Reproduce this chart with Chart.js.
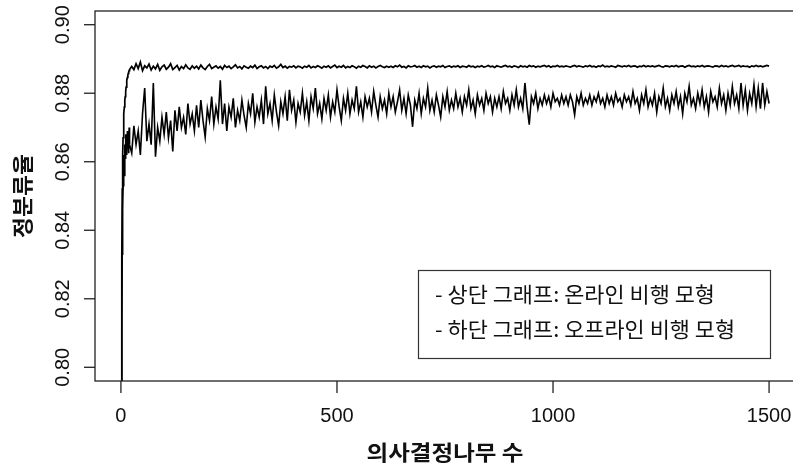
<!DOCTYPE html>
<html>
<head>
<meta charset="utf-8">
<script src="https://cdn.jsdelivr.net/npm/chart.js@4"></script>
<style>
  html, body { margin: 0; padding: 0; background: #fff; overflow: hidden; }
  #wrap { width: 800px; height: 470px; }
</style>
</head>
<body>
<div id="wrap"><canvas id="accChart" width="800" height="470"></canvas></div>
<script>
// number of trees (x)
const treeCounts = [
  1, 2, 3, 4, 5, 6, 7, 8, 9, 10, 11, 12, 13, 14, 15, 16, 17, 18, 19, 20,
  25, 30, 35, 40, 45, 50, 55, 60, 65, 70,
  75, 80, 85, 90, 95, 100, 105, 110, 115, 120,
  125, 130, 135, 140, 145, 150, 155, 160, 165, 170,
  175, 180, 185, 190, 195, 200, 205, 210, 215, 220,
  225, 230, 235, 240, 245, 250, 255, 260, 265, 270,
  275, 280, 285, 290, 295, 300, 305, 310, 315, 320,
  325, 330, 335, 340, 345, 350, 355, 360, 365, 370,
  375, 380, 385, 390, 395, 400, 405, 410, 415, 420,
  425, 430, 435, 440, 445, 450, 455, 460, 465, 470,
  475, 480, 485, 490, 495, 500, 505, 510, 515, 520,
  525, 530, 535, 540, 545, 550, 555, 560, 565, 570,
  575, 580, 585, 590, 595, 600, 605, 610, 615, 620,
  625, 630, 635, 640, 645, 650, 655, 660, 665, 670,
  675, 680, 685, 690, 695, 700, 705, 710, 715, 720,
  725, 730, 735, 740, 745, 750, 755, 760, 765, 770,
  775, 780, 785, 790, 795, 800, 805, 810, 815, 820,
  825, 830, 835, 840, 845, 850, 855, 860, 865, 870,
  875, 880, 885, 890, 895, 900, 905, 910, 915, 920,
  925, 930, 935, 940, 945, 950, 955, 960, 965, 970,
  975, 980, 985, 990, 995, 1000, 1005, 1010, 1015, 1020,
  1025, 1030, 1035, 1040, 1045, 1050, 1055, 1060, 1065, 1070,
  1075, 1080, 1085, 1090, 1095, 1100, 1105, 1110, 1115, 1120,
  1125, 1130, 1135, 1140, 1145, 1150, 1155, 1160, 1165, 1170,
  1175, 1180, 1185, 1190, 1195, 1200, 1205, 1210, 1215, 1220,
  1225, 1230, 1235, 1240, 1245, 1250, 1255, 1260, 1265, 1270,
  1275, 1280, 1285, 1290, 1295, 1300, 1305, 1310, 1315, 1320,
  1325, 1330, 1335, 1340, 1345, 1350, 1355, 1360, 1365, 1370,
  1375, 1380, 1385, 1390, 1395, 1400, 1405, 1410, 1415, 1420,
  1425, 1430, 1435, 1440, 1445, 1450, 1455, 1460, 1465, 1470,
  1475, 1480, 1485, 1490, 1495, 1500
];

// upper curve: online model
const onlineAcc = [
  0.7950, 0.8320, 0.8520, 0.8620, 0.8670, 0.8710, 0.8740, 0.8760, 0.8780, 0.8790,
  0.8805, 0.8818, 0.8830, 0.8838, 0.8846, 0.8852, 0.8858, 0.8862, 0.8866, 0.8869,
  0.8878, 0.8869, 0.8886, 0.8872, 0.8891, 0.8866, 0.8880, 0.8874, 0.8885, 0.8868,
  0.8879, 0.8871, 0.8884, 0.8867, 0.8877, 0.8882, 0.8870, 0.8876, 0.8886, 0.8869,
  0.8875, 0.8881, 0.8868, 0.8878, 0.8872, 0.8883, 0.8874, 0.8870, 0.8880, 0.8873,
  0.8879, 0.8871, 0.8882, 0.8874, 0.8869, 0.8878, 0.8884, 0.8872, 0.8876, 0.8880,
  0.8873, 0.8878, 0.8870, 0.8881, 0.8875, 0.8879, 0.8872, 0.8877, 0.8883, 0.8874,
  0.8878, 0.8871, 0.8880, 0.8876, 0.8873, 0.8879, 0.8875, 0.8882, 0.8872, 0.8877,
  0.8880, 0.8874, 0.8878, 0.8872, 0.8879, 0.8876, 0.8881, 0.8873, 0.8877, 0.8884,
  0.8875, 0.8879, 0.8873, 0.8878, 0.8876, 0.8880, 0.8874, 0.8879, 0.8877, 0.8873,
  0.8879, 0.8876, 0.8881, 0.8874, 0.8878, 0.8875, 0.8880, 0.8877, 0.8873, 0.8879,
  0.8876, 0.8880, 0.8874, 0.8878, 0.8882, 0.8875, 0.8879, 0.8876, 0.8881, 0.8874,
  0.8878, 0.8875, 0.8880, 0.8877, 0.8873, 0.8879, 0.8876, 0.8881, 0.8878, 0.8874,
  0.8880, 0.8876, 0.8879, 0.8874, 0.8878, 0.8881, 0.8877, 0.8875, 0.8879, 0.8876,
  0.8879, 0.8875, 0.8880, 0.8877, 0.8882, 0.8876, 0.8878, 0.8874, 0.8880, 0.8877,
  0.8878, 0.8881, 0.8876, 0.8879, 0.8875, 0.8880, 0.8877, 0.8879, 0.8874, 0.8878,
  0.8880, 0.8876, 0.8879, 0.8877, 0.8881, 0.8875, 0.8878, 0.8880, 0.8876, 0.8879,
  0.8877, 0.8880, 0.8875, 0.8879, 0.8878, 0.8876, 0.8881, 0.8877, 0.8879, 0.8875,
  0.8879, 0.8877, 0.8880, 0.8876, 0.8878, 0.8881, 0.8877, 0.8879, 0.8875, 0.8880,
  0.8878, 0.8876, 0.8879, 0.8881, 0.8877, 0.8879, 0.8876, 0.8880, 0.8878, 0.8875,
  0.8880, 0.8877, 0.8879, 0.8876, 0.8881, 0.8878, 0.8880, 0.8876, 0.8879, 0.8877,
  0.8879, 0.8881, 0.8877, 0.8880, 0.8876, 0.8879, 0.8878, 0.8881, 0.8877, 0.8879,
  0.8877, 0.8880, 0.8878, 0.8876, 0.8879, 0.8881, 0.8877, 0.8880, 0.8878, 0.8876,
  0.8880, 0.8878, 0.8881, 0.8877, 0.8879, 0.8876, 0.8880, 0.8878, 0.8882, 0.8877,
  0.8879, 0.8877, 0.8880, 0.8878, 0.8876, 0.8881, 0.8879, 0.8877, 0.8880, 0.8878,
  0.8881, 0.8877, 0.8879, 0.8880, 0.8876, 0.8879, 0.8878, 0.8881, 0.8877, 0.8880,
  0.8878, 0.8880, 0.8877, 0.8879, 0.8881, 0.8878, 0.8876, 0.8880, 0.8879, 0.8877,
  0.8880, 0.8878, 0.8881, 0.8877, 0.8879, 0.8880, 0.8876, 0.8879, 0.8881, 0.8878,
  0.8879, 0.8877, 0.8880, 0.8878, 0.8881, 0.8877, 0.8879, 0.8880, 0.8878, 0.8876,
  0.8880, 0.8879, 0.8877, 0.8881, 0.8878, 0.8880, 0.8877, 0.8879, 0.8881, 0.8878,
  0.8879, 0.8881, 0.8877, 0.8880, 0.8878, 0.8879, 0.8876, 0.8880, 0.8878, 0.8881,
  0.8878, 0.8880, 0.8877, 0.8879, 0.8881, 0.8879
];

// lower curve: offline model
const offlineAcc = [
  0.7800, 0.8120, 0.8330, 0.8460, 0.8530, 0.8590, 0.8620, 0.8560, 0.8650, 0.8610,
  0.8680, 0.8630, 0.8660, 0.8620, 0.8690, 0.8640, 0.8670, 0.8625, 0.8700, 0.8650,
  0.8625, 0.8705, 0.8650, 0.8690, 0.8620, 0.8740, 0.8815, 0.8660, 0.8710, 0.8650,
  0.8830, 0.8615, 0.8700, 0.8660, 0.8730, 0.8680, 0.8745, 0.8670, 0.8720, 0.8630,
  0.8750, 0.8690, 0.8760, 0.8700, 0.8730, 0.8680, 0.8770, 0.8710, 0.8740, 0.8690,
  0.8765, 0.8700, 0.8780, 0.8720, 0.8672, 0.8755, 0.8720, 0.8790, 0.8710, 0.8760,
  0.8725, 0.8838, 0.8710, 0.8770, 0.8690, 0.8760, 0.8730, 0.8785, 0.8700, 0.8750,
  0.8720, 0.8780, 0.8735, 0.8700, 0.8770, 0.8740, 0.8800, 0.8715, 0.8760, 0.8730,
  0.8780, 0.8710, 0.8820, 0.8740, 0.8770, 0.8720, 0.8795, 0.8745, 0.8705, 0.8775,
  0.8740, 0.8790, 0.8720, 0.8810, 0.8750, 0.8780, 0.8715, 0.8770, 0.8745, 0.8800,
  0.8735, 0.8775, 0.8720, 0.8790, 0.8755, 0.8815, 0.8740, 0.8770, 0.8725, 0.8785,
  0.8750, 0.8795, 0.8730, 0.8775, 0.8745, 0.8810, 0.8760, 0.8720, 0.8785, 0.8750,
  0.8800, 0.8740, 0.8780, 0.8755, 0.8820, 0.8745, 0.8775, 0.8730, 0.8790, 0.8760,
  0.8785, 0.8745, 0.8805, 0.8765, 0.8730, 0.8790, 0.8755, 0.8780, 0.8740, 0.8800,
  0.8760, 0.8790, 0.8745, 0.8775, 0.8810, 0.8750, 0.8785, 0.8740, 0.8795, 0.8765,
  0.8702, 0.8780, 0.8755, 0.8800, 0.8740, 0.8785, 0.8760, 0.8815, 0.8750, 0.8780,
  0.8745, 0.8795, 0.8765, 0.8730, 0.8790, 0.8760, 0.8805, 0.8750, 0.8780, 0.8755,
  0.8800, 0.8760, 0.8785, 0.8745, 0.8790, 0.8765, 0.8810, 0.8755, 0.8780, 0.8740,
  0.8795, 0.8765, 0.8785, 0.8750, 0.8800, 0.8770, 0.8790, 0.8745, 0.8785, 0.8760,
  0.8790, 0.8755, 0.8805, 0.8770, 0.8785, 0.8750, 0.8795, 0.8765, 0.8810, 0.8760,
  0.8785, 0.8755, 0.8830, 0.8760, 0.8708, 0.8790, 0.8770, 0.8800, 0.8755, 0.8785,
  0.8765, 0.8795, 0.8770, 0.8790, 0.8760, 0.8800, 0.8775, 0.8785, 0.8765, 0.8795,
  0.8770, 0.8790, 0.8765, 0.8795, 0.8775, 0.8737, 0.8790, 0.8770, 0.8800, 0.8765,
  0.8785, 0.8770, 0.8795, 0.8765, 0.8790, 0.8775, 0.8800, 0.8770, 0.8785, 0.8760,
  0.8795, 0.8770, 0.8790, 0.8765, 0.8800, 0.8775, 0.8785, 0.8760, 0.8795, 0.8775,
  0.8790, 0.8765, 0.8805, 0.8770, 0.8785, 0.8750, 0.8795, 0.8770, 0.8810, 0.8760,
  0.8785, 0.8765, 0.8800, 0.8745, 0.8790, 0.8770, 0.8815, 0.8760, 0.8785, 0.8750,
  0.8795, 0.8770, 0.8805, 0.8760, 0.8790, 0.8740, 0.8800, 0.8775, 0.8820, 0.8765,
  0.8785, 0.8755, 0.8800, 0.8770, 0.8810, 0.8760, 0.8790, 0.8745, 0.8805, 0.8775,
  0.8790, 0.8760, 0.8815, 0.8770, 0.8795, 0.8750, 0.8800, 0.8765, 0.8820, 0.8770,
  0.8795, 0.8755, 0.8830, 0.8765, 0.8810, 0.8750, 0.8800, 0.8770, 0.8825, 0.8760,
  0.8815, 0.8755, 0.8830, 0.8765, 0.8805, 0.8770
];

const xTicks = [0, 500, 1000, 1500];
const yTicks = [0.80, 0.82, 0.84, 0.86, 0.88, 0.90];
const xTitle = '의사결정나무 수';
const yTitle = '정분류율';
const legendLines = ['- 상단 그래프: 온라인 비행 모형', '- 하단 그래프: 오프라인 비행 모형'];

const NUM_FONT = '20px "Liberation Sans", Arial, sans-serif';
const KR_FONT = '"Noto Sans CJK KR", sans-serif';

// korean text in the source is set in a wider face, so stretch it sideways
function wideText(ctx, text, x, y, sx) {
  ctx.save();
  ctx.translate(x, y);
  ctx.scale(sx, 1);
  ctx.fillText(text, 0, 0);
  ctx.restore();
}

// R style box, ticks, titles and legend
const rAxes = {
  id: 'rAxes',
  afterDraw(chart) {
    const { ctx, chartArea: a, scales } = chart;
    const xs = scales.x, ys = scales.y;
    ctx.save();
    ctx.strokeStyle = '#222';
    ctx.fillStyle = '#111';
    ctx.lineWidth = 1.3;
    ctx.strokeRect(a.left, a.top, a.right - a.left, a.bottom - a.top);

    // x axis
    ctx.font = NUM_FONT;
    ctx.textAlign = 'center';
    ctx.textBaseline = 'middle';
    xTicks.forEach(t => {
      const px = xs.getPixelForValue(t);
      ctx.beginPath();
      ctx.moveTo(px, a.bottom);
      ctx.lineTo(px, a.bottom + 12);
      ctx.stroke();
      ctx.fillText(String(t), px, a.bottom + 35);
    });

    // y axis
    yTicks.forEach(t => {
      const py = ys.getPixelForValue(t);
      ctx.beginPath();
      ctx.moveTo(a.left, py);
      ctx.lineTo(a.left - 11, py);
      ctx.stroke();
      ctx.save();
      ctx.translate(a.left - 32, py);
      ctx.rotate(-Math.PI / 2);
      ctx.fillText(t.toFixed(2), 0, 0);
      ctx.restore();
    });

    // titles
    ctx.font = 'bold 21px ' + KR_FONT;
    wideText(ctx, xTitle, (a.left + a.right) / 2, 452, 157 / ctx.measureText(xTitle).width);
    ctx.save();
    ctx.translate(22, (a.top + a.bottom) / 2);
    ctx.rotate(-Math.PI / 2);
    wideText(ctx, yTitle, 0, 0, 84 / ctx.measureText(yTitle).width);
    ctx.restore();

    // legend box
    ctx.lineWidth = 1.2;
    ctx.strokeStyle = '#333';
    ctx.strokeRect(418.5, 270.5, 352, 88);
    ctx.font = '21px ' + KR_FONT;
    ctx.textAlign = 'left';
    const sx = 280 / ctx.measureText(legendLines[0]).width;
    legendLines.forEach((s, i) => {
      wideText(ctx, s, 435, 294 + i * 35, sx);
    });
    ctx.restore();
  }
};

const toPoints = arr => arr.map((v, i) => ({ x: treeCounts[i], y: v }));

new Chart(document.getElementById('accChart'), {
  type: 'line',
  data: {
    datasets: [
      { label: 'online', data: toPoints(onlineAcc), borderColor: '#000', borderWidth: 1.7, pointRadius: 0, tension: 0 },
      { label: 'offline', data: toPoints(offlineAcc), borderColor: '#000', borderWidth: 1.6, pointRadius: 0, tension: 0 }
    ]
  },
  options: {
    responsive: false,
    animation: false,
    layout: { padding: { left: 95, right: 5, top: 11, bottom: 89 } },
    scales: {
      x: { type: 'linear', min: -60, max: 1560, display: false },
      y: { min: 0.796, max: 0.904, display: false }
    },
    plugins: { legend: { display: false }, tooltip: { enabled: false } }
  },
  plugins: [rAxes]
});
</script>
</body>
</html>
